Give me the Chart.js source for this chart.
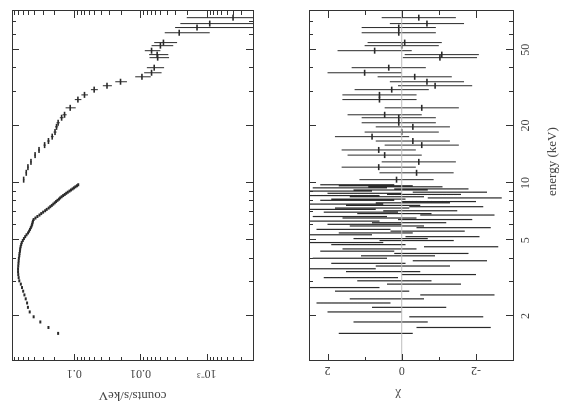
<!DOCTYPE html>
<html>
<head>
<meta charset="utf-8">
<script src="https://cdn.jsdelivr.net/npm/chart.js@4.4.1/dist/chart.umd.min.js"></script>
<style>
html, body { margin: 0; padding: 0; background: #fff; overflow: hidden; width: 564px; height: 403px; }
/* the figure is drawn upright and then turned a quarter turn, like the scanned page */
#wrap { position: absolute; left: 0; top: 0; width: 403px; height: 564px;
        transform-origin: 0 0; transform: translate(0, 403px) rotate(-90deg); }
#wrap canvas { display: block; }
</style>
</head>
<body>
<div id="wrap">
  <canvas id="spec" width="403" height="270"></canvas>
  <canvas id="resid" width="403" height="294"></canvas>
</div>
<script>
// low energy instrument (keV, counts/s/keV, chi), linear bins
const loEnergy = [1.62, 1.74, 1.86, 1.98, 2.10, 2.22, 2.34, 2.46, 2.58, 2.70,
                  2.82, 2.94, 3.06, 3.18, 3.30, 3.42, 3.54, 3.66, 3.78, 3.90,
                  4.02, 4.14, 4.26, 4.38, 4.50, 4.62, 4.74, 4.86, 4.98, 5.10,
                  5.22, 5.34, 5.46, 5.58, 5.70, 5.82, 5.94, 6.06, 6.18, 6.30,
                  6.42, 6.54, 6.66, 6.78, 6.90, 7.02, 7.14, 7.26, 7.38, 7.50,
                  7.62, 7.74, 7.86, 7.98, 8.10, 8.22, 8.34, 8.46, 8.58, 8.70,
                  8.82, 8.94, 9.06, 9.18, 9.30, 9.42, 9.54, 9.66, 9.78];
const loCounts = [0.175, 0.245, 0.325, 0.41, 0.47, 0.50, 0.515, 0.54, 0.565, 0.59,
                  0.615, 0.64, 0.675, 0.69, 0.70, 0.705, 0.705, 0.70, 0.695, 0.69,
                  0.685, 0.675, 0.67, 0.66, 0.655, 0.645, 0.632, 0.62, 0.598, 0.575,
                  0.55, 0.525, 0.498, 0.48, 0.465, 0.452, 0.44, 0.432, 0.426, 0.42,
                  0.41, 0.385, 0.36, 0.335, 0.315, 0.295, 0.275, 0.26, 0.243, 0.23,
                  0.218, 0.207, 0.197, 0.188, 0.179, 0.17, 0.163, 0.155, 0.147, 0.139,
                  0.132, 0.125, 0.118, 0.112, 0.106, 0.101, 0.096, 0.091, 0.087];
const loChi = [0.7, -1.4, 0.3, -1.2, 1.0, -0.2, 1.3, 0.4, -1.5, 0.8,
               1.6, -0.6, 0.2, 1.1, -1.0, 0.5, 1.7, -0.3, 0.9, -1.3,
               1.4, 0.1, -0.8, 1.2, 0.6, -1.6, 0.9, 1.5, -0.4, 0.3,
               -1.1, 1.8, 0.7, -0.7, 1.3, -1.4, 0.4, 1.0, -0.2, 1.6,
               -0.9, 0.6, 1.4, -1.5, 0.2, 1.1, -0.5, 1.7, 0.8, -1.2,
               0.5, 1.5, -0.3, -1.0, 1.2, 0.9, -1.7, 0.4, 1.6, -0.6,
               1.0, -1.3, 1.8, 0.3, -0.8, 1.4, -0.1, 0.7, 1.2];

// high energy instrument
const hiEnergy = [10.4, 11.3, 12.1, 12.9, 14.0, 14.9, 15.8, 16.6, 17.5, 18.5,
                  19.7, 20.7, 22.0, 22.8, 24.8, 27.4, 29.0, 30.9, 32.4, 34.0,
                  36.1, 37.9, 40.3, 45.5, 47.2, 49.5, 52.6, 54.6, 61.5, 65.5,
                  68.7, 73.8];
const hiCounts = [0.58, 0.53, 0.50, 0.45, 0.39, 0.34, 0.28, 0.245, 0.215, 0.195,
                  0.185, 0.175, 0.155, 0.14, 0.115, 0.088, 0.07, 0.05, 0.032, 0.02,
                  0.0095, 0.0068, 0.0062, 0.0055, 0.0056, 0.0068, 0.005, 0.0045, 0.0026, 0.0014,
                  0.0009, 0.0004];
const hiCountErr = [0.015, 0.014, 0.014, 0.013, 0.012, 0.012, 0.011, 0.011, 0.010, 0.010,
                    0.010, 0.010, 0.010, 0.010, 0.020, 0.010, 0.008, 0.006, 0.005, 0.004,
                    0.0025, 0.0020, 0.0018, 0.0018, 0.0018, 0.0018, 0.0018, 0.0017, 0.0017, 0.0016,
                    0.0016, 0.0016];
const hiChi = [0.14, -0.4, 0.62, -0.46, 0.46, 0.62, -0.54, -0.3, 0.8, 0.0,
               -0.3, 0.08, 0.08, 0.46, -0.54, 0.6, 0.6, 0.27, -0.9, -0.68,
               -0.35, 1.0, 0.35, -1.03, -1.08, 0.73, 0.0, -0.08, 0.08, 0.08,
               -0.68, -0.46];

const energyTicks = [2, 5, 10, 20, 50];
const countTicks = [0.001, 0.01, 0.1];
const countTickLabels = ['10\u207B\u00B3', '0.01', '0.1'];
const chiTicks = [-2, 0, 2];

const E_MIN = 1.16, E_MAX = 80;
const C_MIN = 2e-4, C_MAX = 0.87;
const CHI_MIN = -3, CHI_MAX = 2.5;

const ink = '#2a2a2a';
const textCol = '#444';
const tickFont = { family: 'Liberation Serif', size: 12 };
const titleFont = { family: 'Liberation Serif', size: 13 };

// vertical error bars as one broken line
function bars(xs, lo, hi) {
  const pts = [];
  xs.forEach((x, i) => {
    pts.push({ x: x, y: lo[i] }, { x: x, y: hi[i] }, { x: x, y: null });
  });
  return pts;
}
function pts(xs, ys) {
  return xs.map((x, i) => ({ x: x, y: ys[i] }));
}

// minor tick positions for the inside ticks
const energyMinor = [];
[1, 10].forEach(d => { for (let k = 1; k < 10; k++) energyMinor.push(k * d); });
const countMinor = [];
[1e-4, 1e-3, 1e-2, 1e-1].forEach(d => { for (let k = 1; k < 10; k++) countMinor.push(k * d); });

const framePlugin = {
  id: 'frame',
  afterDatasetsDraw(chart, args, opts) {
    const { ctx, chartArea: a, scales } = chart;
    ctx.save();
    ctx.strokeStyle = '#333';
    ctx.lineWidth = 1;
    ctx.strokeRect(Math.round(a.left) + 0.5, Math.round(a.top) + 0.5, Math.round(a.width), Math.round(a.height));
    ctx.beginPath();
    energyMinor.forEach(v => {
      if (v < E_MIN || v > E_MAX) return;
      const x = Math.round(scales.x.getPixelForValue(v)) + 0.5;
      const len = energyTicks.includes(v) || v === 1 || v === 10 ? 7 : 4;
      ctx.moveTo(x, a.top); ctx.lineTo(x, a.top + len);
      ctx.moveTo(x, a.bottom); ctx.lineTo(x, a.bottom - len);
    });
    opts.yTicks.forEach(v => {
      if (v < scales.y.min || v > scales.y.max) return;
      const y = Math.round(scales.y.getPixelForValue(v)) + 0.5;
      const len = opts.yMajor.includes(v) ? 7 : 4;
      ctx.moveTo(a.left, y); ctx.lineTo(a.left + len, y);
      ctx.moveTo(a.right, y); ctx.lineTo(a.right - len, y);
    });
    ctx.stroke();
    ctx.restore();
  }
};

const common = {
  responsive: false,
  animation: false,
  events: [],
  plugins: { legend: { display: false }, tooltip: { enabled: false } }
};

// upper panel: counts spectrum
new Chart(document.getElementById('spec'), {
  type: 'scatter',
  data: {
    datasets: [
      {
        data: bars(hiEnergy,
                   hiCounts.map((c, i) => Math.max(c - hiCountErr[i], 1e-5)),
                   hiCounts.map((c, i) => c + hiCountErr[i])),
        showLine: true, spanGaps: false, pointRadius: 0,
        borderColor: ink, borderWidth: 1
      },
      {
        data: pts(hiEnergy, hiCounts),
        pointStyle: 'line', pointRadius: 3, borderColor: ink, borderWidth: 1.6
      },
      {
        data: pts(loEnergy, loCounts),
        pointStyle: 'line', pointRadius: 1.5, borderColor: ink, borderWidth: 2
      }
    ]
  },
  options: Object.assign({}, common, {
    layout: { padding: { left: 0, right: 11, top: 12, bottom: 17 } },
    plugins: Object.assign({}, common.plugins, {
      frame: { yTicks: countMinor, yMajor: countTicks }
    }),
    scales: {
      x: { type: 'logarithmic', min: E_MIN, max: E_MAX, display: false },
      y: {
        type: 'logarithmic', min: C_MIN, max: C_MAX,
        afterBuildTicks: s => { s.ticks = countTicks.map(v => ({ value: v })); },
        afterFit: s => { s.width = 42; },
        grid: { display: false, drawTicks: false },
        border: { display: false },
        ticks: {
          minRotation: 90, maxRotation: 90, crossAlign: 'center', padding: 2,
          font: tickFont, color: textCol,
          callback: v => countTickLabels[countTicks.indexOf(v)]
        },
        title: { display: true, text: 'counts/s/keV', padding: 0, font: titleFont, color: textCol }
      }
    }
  }),
  plugins: [framePlugin]
});

// lower panel: residuals
new Chart(document.getElementById('resid'), {
  type: 'scatter',
  data: {
    datasets: [
      {
        data: [{ x: E_MIN, y: 0 }, { x: E_MAX, y: 0 }],
        showLine: true, pointRadius: 0, borderColor: '#bdbdbd', borderWidth: 1
      },
      {
        data: bars(loEnergy, loChi.map(c => c - 1), loChi.map(c => c + 1)),
        showLine: true, spanGaps: false, pointRadius: 0,
        borderColor: ink, borderWidth: 1.2
      },
      {
        data: bars(hiEnergy, hiChi.map(c => c - 1), hiChi.map(c => c + 1)),
        showLine: true, spanGaps: false, pointRadius: 0,
        borderColor: ink, borderWidth: 1
      },
      {
        data: pts(hiEnergy, hiChi),
        pointStyle: 'line', pointRadius: 3, borderColor: ink, borderWidth: 1.6
      }
    ]
  },
  options: Object.assign({}, common, {
    layout: { padding: { left: 0, right: 11, top: 39, bottom: 0 } },
    plugins: Object.assign({}, common.plugins, {
      frame: { yTicks: [-3, -2, -1, 0, 1, 2], yMajor: chiTicks }
    }),
    scales: {
      x: {
        type: 'logarithmic', min: E_MIN, max: E_MAX,
        afterBuildTicks: s => { s.ticks = energyTicks.map(v => ({ value: v })); },
        afterFit: s => { s.height = 51; },
        grid: { display: false, drawTicks: false },
        border: { display: false },
        ticks: {
          maxRotation: 0, minRotation: 0, autoSkip: false, padding: 6,
          font: tickFont, color: textCol,
          callback: v => String(v)
        },
        title: { display: true, text: '               energy (keV)', padding: { top: 0, bottom: 4 }, font: titleFont, color: textCol }
      },
      y: {
        type: 'linear', min: CHI_MIN, max: CHI_MAX,
        afterBuildTicks: s => { s.ticks = chiTicks.map(v => ({ value: v })); },
        afterFit: s => { s.width = 42; },
        grid: { display: false, drawTicks: false },
        border: { display: false },
        ticks: {
          minRotation: 90, maxRotation: 90, crossAlign: 'center', padding: 4,
          font: tickFont, color: textCol,
          callback: v => String(v)
        },
        title: { display: true, text: '        \u03C7', padding: 0, font: titleFont, color: textCol }
      }
    }
  }),
  plugins: [framePlugin]
});
</script>
</body>
</html>
